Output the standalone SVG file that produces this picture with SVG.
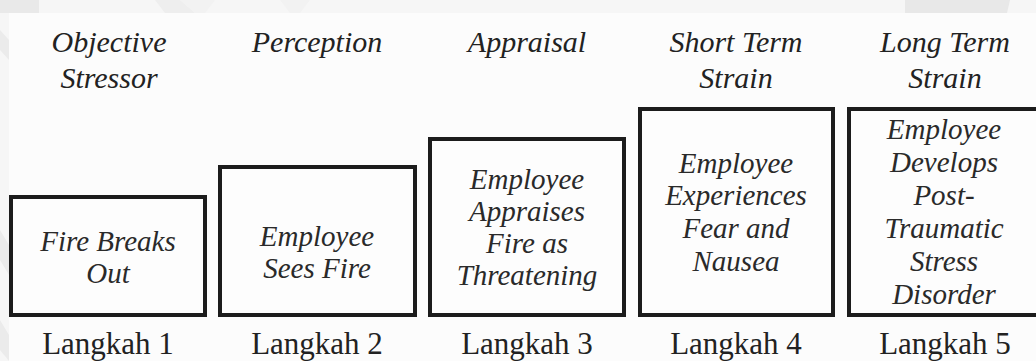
<svg xmlns="http://www.w3.org/2000/svg" width="1036" height="361" viewBox="0 0 1036 361" font-family="Liberation Serif, Times New Roman, serif">
  <style>
    .hdr { font-style: italic; font-size: 30px; fill: #222; text-anchor: middle; }
    .lbl { font-style: italic; font-size: 29px; fill: #2a2a2a; text-anchor: middle; }
    .step { font-size: 31px; fill: #222; text-anchor: middle; }
    .box { fill: #fdfdfd; stroke: #1c1c1c; stroke-width: 4; }
  </style>

  <!-- faint backdrop bands -->
  <g id="backdrop">
    <rect x="0" y="0" width="1036" height="361" fill="#f6f6f6"/>
    <rect x="0" y="0" width="39" height="13" fill="#e9e9e9"/>
    <polygon points="155,0 180,0 195,13 165,13" fill="#eeeeee"/>
    <polygon points="180,0 215,0 205,13 195,13" fill="#f2f2f2"/>
    <polygon points="280,0 310,0 300,13 290,13" fill="#f2f2f2"/>
    <polygon points="905,0 1010,0 1007,13 905,13" fill="#e8e8e8"/>
    <polygon points="0,30 9,40 9,60 0,50" fill="#ebebeb"/>
    <polygon points="0,230 9,245 9,275 0,260" fill="#ebebeb"/>
    <polygon points="0,320 9,335 9,361 0,350" fill="#ebebeb"/>
    <rect x="9" y="13" width="1027" height="348" fill="#fcfcfc"/>
  </g>

  <!-- stage headings -->
  <g id="headings" font-family="Liberation Serif">
    <text class="hdr" x="109" y="52">Objective</text>
    <text class="hdr" x="109" y="88">Stressor</text>
    <text class="hdr" x="317" y="52">Perception</text>
    <text class="hdr" x="527" y="52">Appraisal</text>
    <text class="hdr" x="736" y="52">Short Term</text>
    <text class="hdr" x="736" y="88">Strain</text>
    <text class="hdr" x="945" y="52">Long Term</text>
    <text class="hdr" x="945" y="88">Strain</text>
  </g>

  <g id="node1" font-family="Liberation Serif">
    <rect class="box" x="11" y="197" width="194" height="118"/>
    <text class="lbl" x="108" y="251">Fire Breaks</text>
    <text class="lbl" x="108" y="283">Out</text>
  </g>

  <g id="node2" font-family="Liberation Serif">
    <rect class="box" x="220" y="167" width="195" height="148"/>
    <text class="lbl" x="317" y="246">Employee</text>
    <text class="lbl" x="317" y="278">Sees Fire</text>
  </g>

  <g id="node3" font-family="Liberation Serif">
    <rect class="box" x="430" y="139" width="194" height="176"/>
    <text class="lbl" x="527" y="189">Employee</text>
    <text class="lbl" x="527" y="221">Appraises</text>
    <text class="lbl" x="527" y="253">Fire as</text>
    <text class="lbl" x="527" y="285">Threatening</text>
  </g>

  <g id="node4" font-family="Liberation Serif">
    <rect class="box" x="640" y="109" width="193" height="206"/>
    <text class="lbl" x="736" y="173">Employee</text>
    <text class="lbl" x="736" y="205">Experiences</text>
    <text class="lbl" x="736" y="238">Fear and</text>
    <text class="lbl" x="736" y="271">Nausea</text>
  </g>

  <g id="node5" font-family="Liberation Serif">
    <rect class="box" x="849" y="109" width="192" height="206"/>
    <text class="lbl" x="944" y="139">Employee</text>
    <text class="lbl" x="944" y="172">Develops</text>
    <text class="lbl" x="944" y="205">Post-</text>
    <text class="lbl" x="944" y="238">Traumatic</text>
    <text class="lbl" x="944" y="271">Stress</text>
    <text class="lbl" x="944" y="304">Disorder</text>
  </g>

  <!-- step captions -->
  <g id="steps" font-family="Liberation Serif">
    <text class="step" x="108" y="354">Langkah 1</text>
    <text class="step" x="317" y="354">Langkah 2</text>
    <text class="step" x="527" y="354">Langkah 3</text>
    <text class="step" x="736" y="354">Langkah 4</text>
    <text class="step" x="945" y="354">Langkah 5</text>
  </g>

  <!-- no connectors are drawn between the stages -->
  <g id="connectors"/>
</svg>
